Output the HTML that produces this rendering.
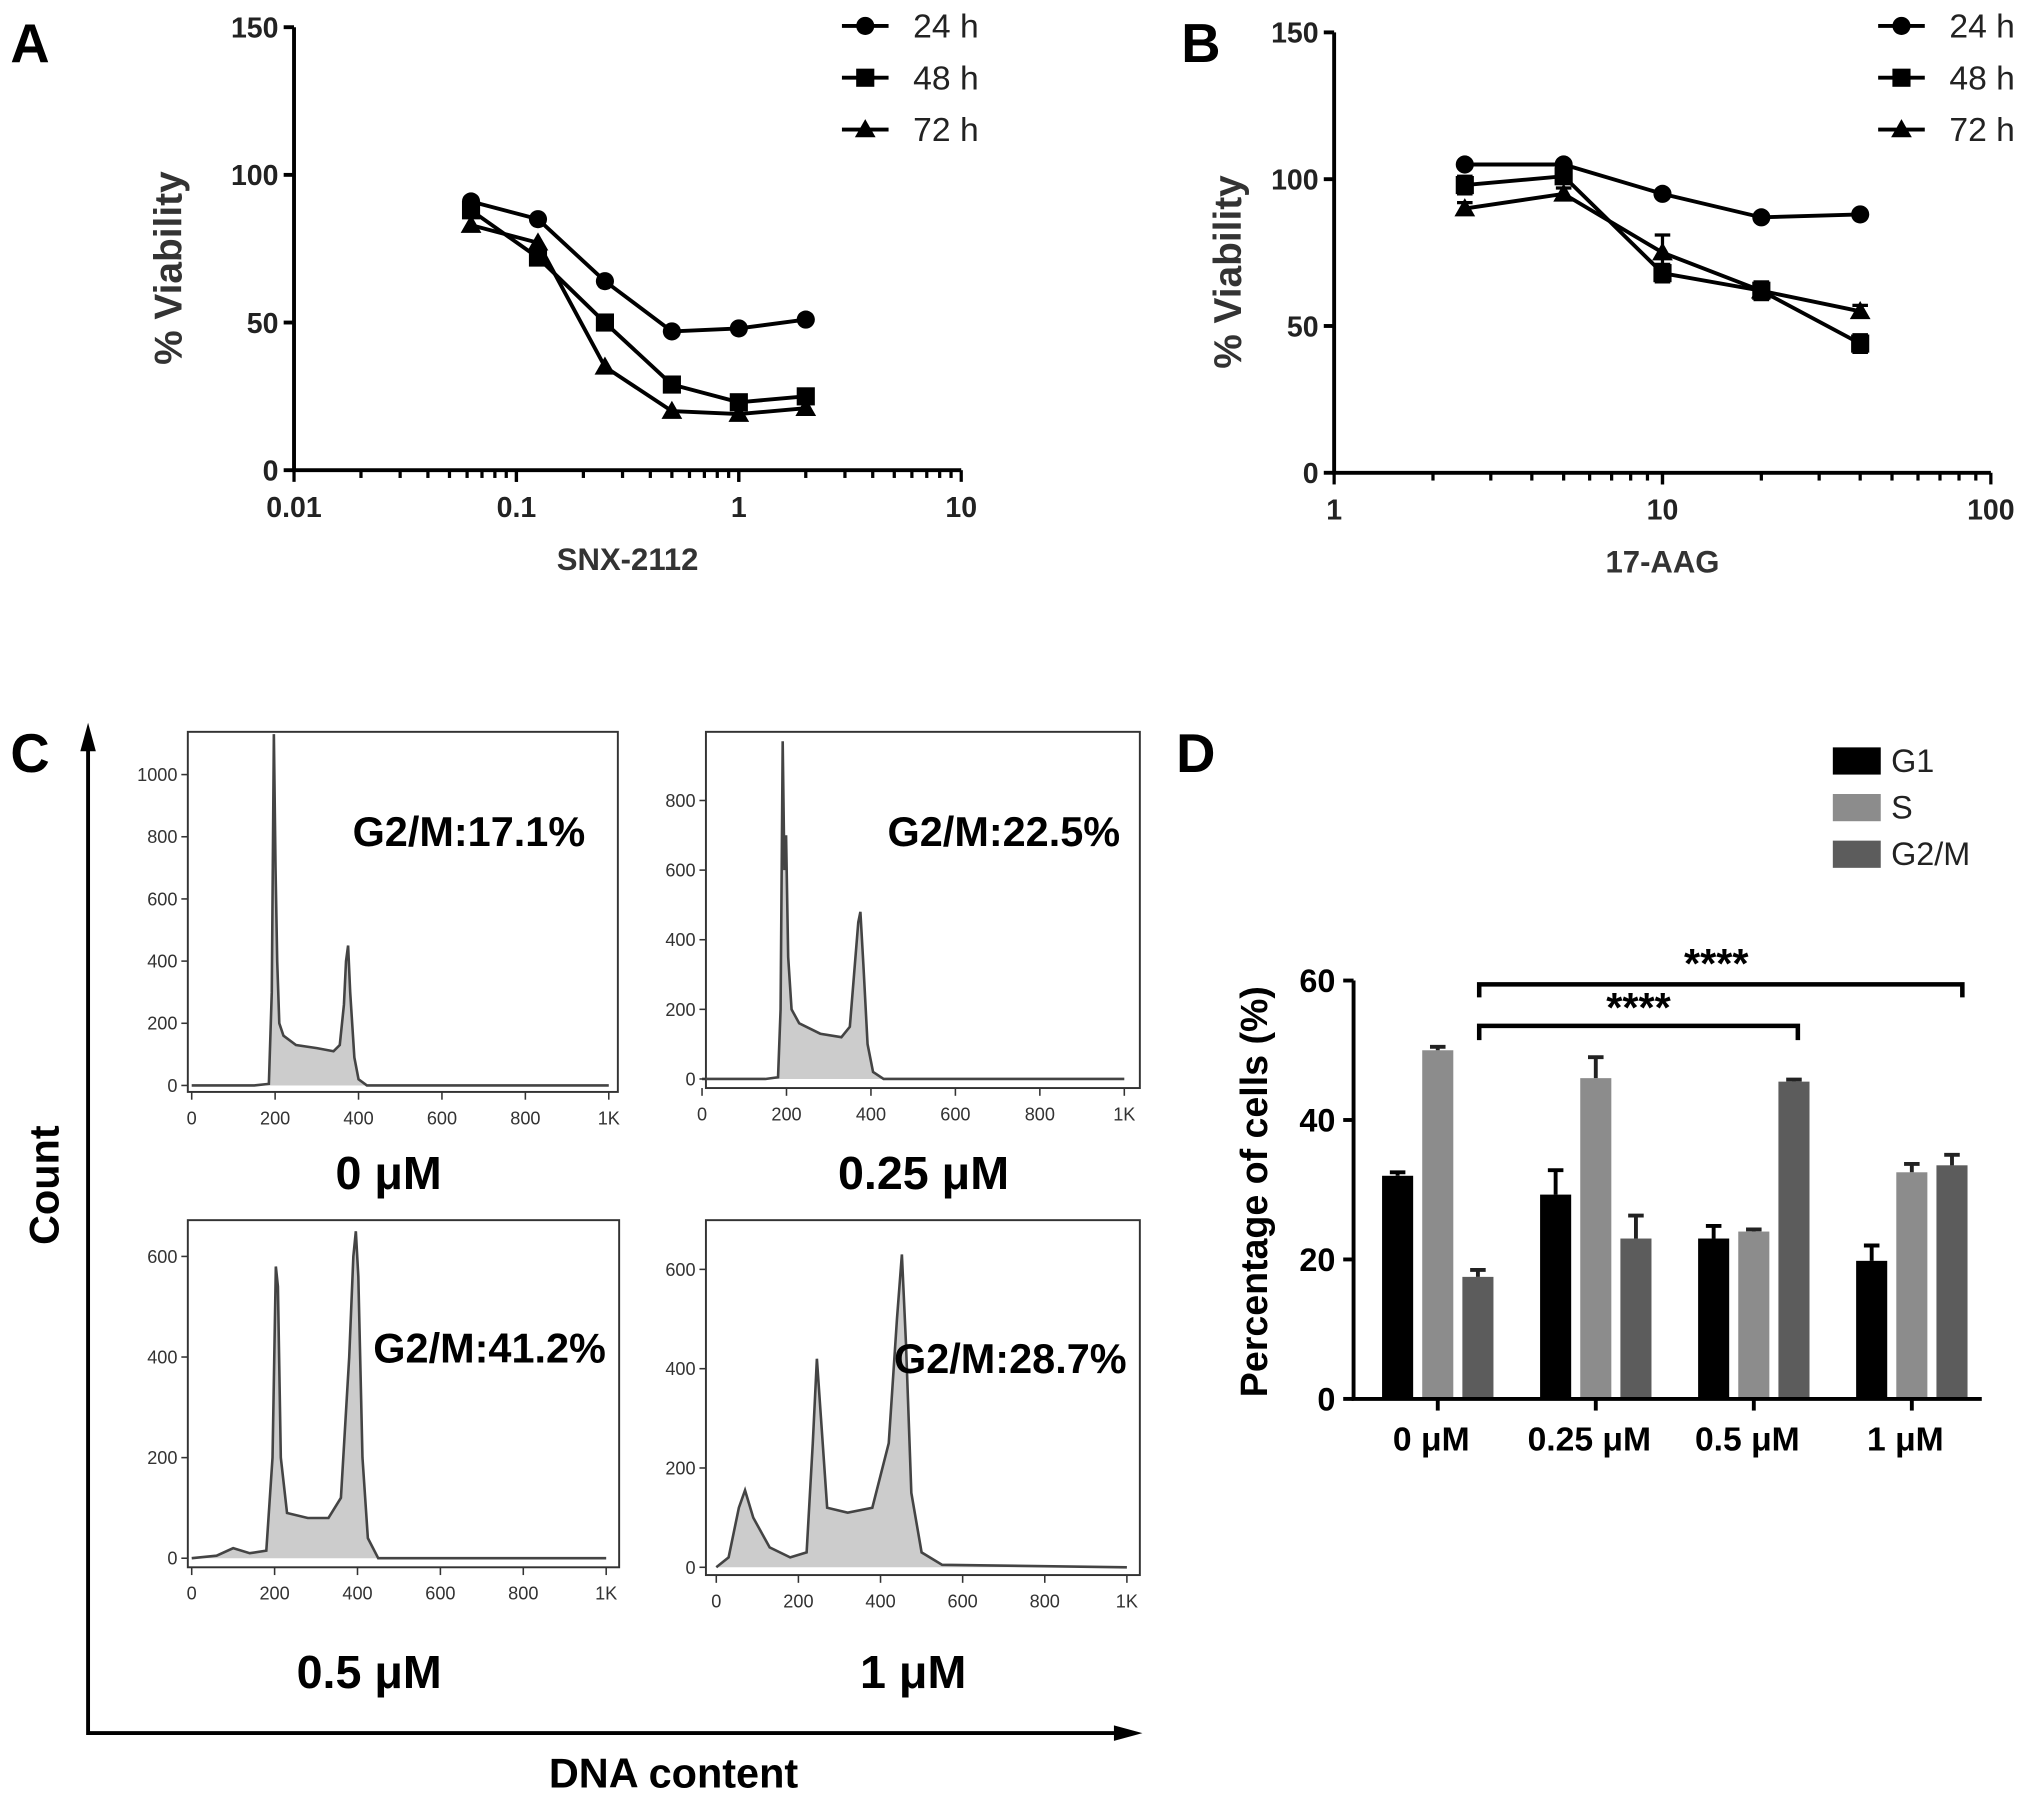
<!DOCTYPE html>
<html><head><meta charset="utf-8"><style>
html,body{margin:0;padding:0;background:#fff}
svg{display:block}
text{font-family:"Liberation Sans",Arial,sans-serif}
</style></head><body>
<svg id="fig" width="2031" height="1802" viewBox="0 0 1568 1391.2" xmlns="http://www.w3.org/2000/svg">
<g id="gA"></g>
<g id="gB"></g>
<g id="gC"></g>
<g id="gD"></g>
</svg>
<script>
// ---- Panel A data ----
const aDoses=[0.0625,0.125,0.25,0.5,1,2];
const a24=[91,85,64,47,48,51];
const a48=[88,72,50,29,23,25];
const a72=[83,77,35,20,19,21];
const aXTicks=["0.01","0.1","1","10"];
const viabTicks=[0,50,100,150];
// ---- Panel B data ----
const bDoses=[2.5,5,10,20,40];
const b24=[105,105,95,87,88];
const b48=[98,101,68,62,44];
const b72=[90,95,75,62,55];
const bErr48=[3,2,3,3,3];
const bErr72=[2,2,6,3,2];
const bXTicks=["1","10","100"];
// ---- Panel C data (DNA content vs count) ----
const c1Dna=[0,150,185,192,197,201,205,210,220,250,300,340,355,365,370,375,380,390,400,420,1000];
const c1Cnt=[0,0,5,300,1130,700,400,200,160,130,120,110,130,260,400,450,300,90,20,0,0];
const c2Dna=[0,150,180,186,191,195,199,204,212,230,280,330,350,360,370,375,382,392,405,430,1000];
const c2Cnt=[0,0,5,200,970,600,700,350,200,160,130,120,150,300,450,480,330,100,20,0,0];
const c3Dna=[0,60,100,140,180,195,203,208,215,230,280,330,360,380,390,396,402,412,425,450,1000];
const c3Cnt=[0,5,20,10,15,200,580,540,200,90,80,80,120,400,600,650,560,200,40,0,0];
const c4Dna=[0,30,55,70,90,130,180,220,235,245,255,270,320,380,420,440,452,462,475,500,550,1000];
const c4Cnt=[0,20,120,155,100,40,20,30,250,420,300,120,110,120,250,500,630,450,150,30,5,0];
const c1Y=[0,200,400,600,800,1000];
const c2Y=[0,200,400,600,800];
const c3Y=[0,200,400,600];
const c4Y=[0,200,400,600];
const cXTicks=["0","200","400","600","800","1K"];
const cLabels=["G2/M:17.1%","G2/M:22.5%","G2/M:41.2%","G2/M:28.7%"];
const cDoses=["0 μM","0.25 μM","0.5 μM","1 μM"];
// ---- Panel D data ----
const dGroups=["0 μM","0.25 μM","0.5 μM","1 μM"];
const dG1=[32,29.3,23,19.8];
const dS=[50,46,24,32.5];
const dG2M=[17.5,23,45.5,33.5];
const dG1Err=[0.5,3.5,1.8,2.2];
const dSErr=[0.5,3,0.3,1.2];
const dG2MErr=[1,3.3,0.3,1.5];
const dYTicks=[0,20,40,60];

const NS="http://www.w3.org/2000/svg";
function mk(parent,tag,attrs,txt){const e=document.createElementNS(NS,tag);for(const k in attrs)e.setAttribute(k,attrs[k]);if(txt!==undefined)e.textContent=txt;parent.appendChild(e);return e;}

function marker(g,type,x,y){
  let m;
  if(type==0){m=mk(g,'circle',{cx:x,cy:y,r:7,fill:'#000'});}
  else if(type==1){m=mk(g,'rect',{x:x-7,y:y-7,width:14,height:14,fill:'#000'});}
  else {m=mk(g,'polygon',{points:`${x},${y-8} ${x+8},${y+6} ${x-8},${y+6}`,fill:'#000'});}
  
  
}

function viabPanel(g,o){
  const X=v=>o.x0+(Math.log10(v)-o.lmin)*o.dec;
  const Y=v=>o.y0-(v/150)*(o.y0-o.yTop);
  const xEnd=o.x0+(o.lmax-o.lmin)*o.dec;
  const ax=mk(g,'path',{d:`M${o.x0},${o.yTop} V${o.y0} H${xEnd}`,stroke:'#000','stroke-width':3,fill:'none'});
  
  
  viabTicks.forEach(t=>{
    mk(g,'line',{x1:o.x0-8,x2:o.x0,y1:Y(t),y2:Y(t),stroke:'#000','stroke-width':3});
    const tl=mk(g,'text',{x:o.x0-12,y:Y(t)+8,'text-anchor':'end','font-size':22,'font-weight':'bold',fill:'#222'},String(t));
    
    
  });
  for(let d=o.lmin;d<o.lmax;d++){for(let k=1;k<=10;k++){const x=o.x0+(d-o.lmin+Math.log10(k))*o.dec;mk(g,'line',{x1:x,x2:x,y1:o.y0,y2:o.y0+(k==1||k==10?9:6),stroke:'#000','stroke-width':2.5});}}
  o.ticks.forEach((t,i)=>{const tl=mk(g,'text',{x:o.x0+i*o.dec,y:o.y0+36,'text-anchor':'middle','font-size':22,'font-weight':'bold',fill:'#222'},t);
    
    });
  const xt=mk(g,'text',{x:(o.x0+xEnd)/2,y:o.y0+77,'text-anchor':'middle','font-size':24,'font-weight':'bold',fill:'#333'},o.xl);
  
  
  const yt=mk(g,'text',{x:0,y:0,transform:`translate(${o.ylx},${(o.y0+o.yTop)/2+15}) rotate(-90)`,'text-anchor':'middle','font-size':30,'font-weight':'bold',fill:'#333'},'% Viability');
  
  
  const pl=mk(g,'text',{x:o.lx,y:o.ly,'font-size':42,'font-weight':'bold'},o.letter);
  
  
  o.series.forEach((s,si)=>{
    const sg=mk(g,'g',{});
    
    
    mk(sg,'polyline',{points:s.map((v,i)=>X(o.doses[i])+','+Y(v)).join(' '),fill:'none',stroke:'#000','stroke-width':3});
    if(o.errs&&o.errs[si])s.forEach((v,i)=>{const e=o.errs[si][i];mk(sg,'path',{d:`M${X(o.doses[i])},${Y(v+e)}V${Y(v-e)}M${X(o.doses[i])-6},${Y(v+e)}h12M${X(o.doses[i])-6},${Y(v-e)}h12`,stroke:'#000','stroke-width':2.5,fill:'none'});});
    s.forEach((v,i)=>marker(sg,si,X(o.doses[i]),Y(v)));
  });
  ['24 h','48 h','72 h'].forEach((t,i)=>{
    const lg=mk(g,'g',{});
    
    
    const y=o.legY+i*40;
    mk(lg,'line',{x1:o.legX,x2:o.legX+36,y1:y,y2:y,stroke:'#000','stroke-width':3});
    marker(lg,i,o.legX+18,y);
    mk(lg,'text',{x:o.legX+55,y:y+9,'font-size':26,fill:'#222'},t);
  });
}
viabPanel(document.getElementById('gA'),{x0:227,y0:363,yTop:21,lmin:-2,lmax:1,dec:171.7,doses:aDoses,series:[a24,a48,a72],ticks:aXTicks,xl:'SNX-2112',ylx:140,letter:'A',lx:8,ly:48,legX:650,legY:20});
viabPanel(document.getElementById('gB'),{x0:1030,y0:365,yTop:25,lmin:0,lmax:2,dec:253.5,doses:bDoses,series:[b24,b48,b72],errs:[null,bErr48,bErr72],ticks:bXTicks,xl:'17-AAG',ylx:958,letter:'B',lx:912,ly:48,legX:1450,legY:20});

// ---- Panel C ----
const gC=document.getElementById('gC');
function hist(o){
  const g=mk(gC,'g',{});
  
  
  const X=v=>o.x0+v/1000*(o.x1-o.x0);
  const Y=v=>o.y0-v/o.yv*(o.y0-o.yt);
  mk(g,'rect',{x:o.bx0,y:o.by0,width:o.bx1-o.bx0,height:o.by1-o.by0,fill:'#fff',stroke:'#333','stroke-width':1.5});
  const pts=o.dna.map((d,i)=>X(d)+','+Math.max(Y(o.cnt[i]),o.by0)).join(' ');
  mk(g,'polygon',{points:X(0)+','+o.y0+' '+pts+' '+X(1000)+','+o.y0,fill:'#ccc',stroke:'none'});
  mk(g,'polyline',{points:pts,fill:'none',stroke:'#444','stroke-width':2});
  o.yt2.forEach(t=>{mk(g,'line',{x1:o.bx0-5,x2:o.bx0,y1:Y(t),y2:Y(t),stroke:'#333','stroke-width':1.2});
    const tl=mk(g,'text',{x:o.bx0-8,y:Y(t)+5,'text-anchor':'end','font-size':14,fill:'#333'},String(t));
    
    });
  cXTicks.forEach((t,i)=>{const x=X(i*200);mk(g,'line',{x1:x,x2:x,y1:o.by1,y2:o.by1+6,stroke:'#333','stroke-width':1.2});
    const tl=mk(g,'text',{x:x,y:o.by1+25,'text-anchor':'middle','font-size':14,fill:'#333'},t);
    
    });
  const lb=mk(g,'text',{x:o.lx,y:o.ly,'text-anchor':'middle','font-size':32,'font-weight':'bold'},o.label);
  
  
  const dl=mk(gC,'text',{x:o.dx,y:o.dy,'text-anchor':'middle','font-size':36,'font-weight':'bold'},o.dose);
  
  
}
hist({id:1,x0:148,x1:470,y0:838,yt:598,yv:1000,bx0:145,bx1:477,by0:565,by1:843,dna:c1Dna,cnt:c1Cnt,yt2:c1Y,label:cLabels[0],lx:362,ly:653,dose:cDoses[0],dx:300,dy:918});
hist({id:2,x0:542,x1:868,y0:833,yt:618,yv:800,bx0:545,bx1:880,by0:565,by1:840,dna:c2Dna,cnt:c2Cnt,yt2:c2Y,label:cLabels[1],lx:775,ly:653,dose:cDoses[1],dx:713,dy:918});
hist({id:3,x0:148,x1:468,y0:1203,yt:970,yv:600,bx0:145,bx1:478,by0:942,by1:1210,dna:c3Dna,cnt:c3Cnt,yt2:c3Y,label:cLabels[2],lx:378,ly:1052,dose:cDoses[2],dx:285,dy:1303});
hist({id:4,x0:553,x1:870,y0:1210,yt:980,yv:600,bx0:545,bx1:880,by0:942,by1:1216,dna:c4Dna,cnt:c4Cnt,yt2:c4Y,label:cLabels[3],lx:780,ly:1060,dose:cDoses[3],dx:705,dy:1303});
const ca=mk(gC,'path',{d:'M68,565 V1338 H875',stroke:'#000','stroke-width':3,fill:'none'});


mk(gC,'polygon',{points:'68,558 62,580 74,580',fill:'#000'});
mk(gC,'polygon',{points:'882,1338 860,1332 860,1344',fill:'#000'});
let t=mk(gC,'text',{x:0,y:0,transform:'translate(45,915) rotate(-90)','text-anchor':'middle','font-size':32,'font-weight':'bold'},'Count');


t=mk(gC,'text',{x:520,y:1380,'text-anchor':'middle','font-size':32,'font-weight':'bold'},'DNA content');


t=mk(gC,'text',{x:8,y:596,'font-size':42,'font-weight':'bold'},'C');



// ---- Panel D ----
const gD=document.getElementById('gD');
const dx0=1045,dy0=1080,dyTop=757,dx1=1530;
const DY=v=>dy0-v/60*(dy0-dyTop);
const DX=i=>1110+i*122;
const dSeries=[[dG1,dG1Err,'#000','g1'],[dS,dSErr,'#8c8c8c','s'],[dG2M,dG2MErr,'#5c5c5c','g2m']];
dSeries.forEach((s,si)=>{
  s[0].forEach((v,i)=>{
    const cx=DX(i)+(si-1)*31;
    const b=mk(gD,'rect',{x:cx-12,y:DY(v),width:24,height:dy0-DY(v),fill:s[2]});
    
    
    const e=s[1][i];
    mk(gD,'path',{d:`M${cx},${DY(v)}V${DY(v+e)}M${cx-6},${DY(v+e)}h12`,stroke:s[2]=='#000'?'#000':'#222','stroke-width':3,fill:'none'});
  });
});
const da=mk(gD,'path',{d:`M${dx0},${dyTop} V${dy0} H${dx1}`,stroke:'#000','stroke-width':3,fill:'none'});


dYTicks.forEach(v=>{mk(gD,'line',{x1:dx0-8,x2:dx0,y1:DY(v),y2:DY(v),stroke:'#000','stroke-width':3});
  const tl=mk(gD,'text',{x:dx0-14,y:DY(v)+9,'text-anchor':'end','font-size':25,'font-weight':'bold'},String(v));
  
  });
dGroups.forEach((gname,i)=>{mk(gD,'line',{x1:DX(i),x2:DX(i),y1:dy0,y2:dy0+9,stroke:'#000','stroke-width':3});
  const tl=mk(gD,'text',{x:DX(i)-5,y:dy0+40,'text-anchor':'middle','font-size':26,'font-weight':'bold'},gname);
  
  });
t=mk(gD,'text',{x:0,y:0,transform:'translate(978,920) rotate(-90)','text-anchor':'middle','font-size':29,'font-weight':'bold'},'Percentage of cells (%)');


t=mk(gD,'text',{x:908,y:596,'font-size':42,'font-weight':'bold'},'D');


[['G1','#000'],['S','#8c8c8c'],['G2/M','#5c5c5c']].forEach((l,i)=>{
  const lg=mk(gD,'g',{});
  
  
  mk(lg,'rect',{x:1415,y:577+i*36,width:37,height:21,fill:l[1]});
  mk(lg,'text',{x:1460,y:596+i*36,'font-size':25,fill:'#222'},l[0]);
});
let br=mk(gD,'path',{d:'M1142,770 V760 H1515 V770',stroke:'#000','stroke-width':3.5,fill:'none'});


br=mk(gD,'path',{d:'M1142,803 V792 H1388 V803',stroke:'#000','stroke-width':3.5,fill:'none'});


t=mk(gD,'text',{x:1325,y:755,'text-anchor':'middle','font-size':32,'font-weight':'bold'},'****');


t=mk(gD,'text',{x:1265,y:789,'text-anchor':'middle','font-size':32,'font-weight':'bold'},'****');


</script>
</body></html>
